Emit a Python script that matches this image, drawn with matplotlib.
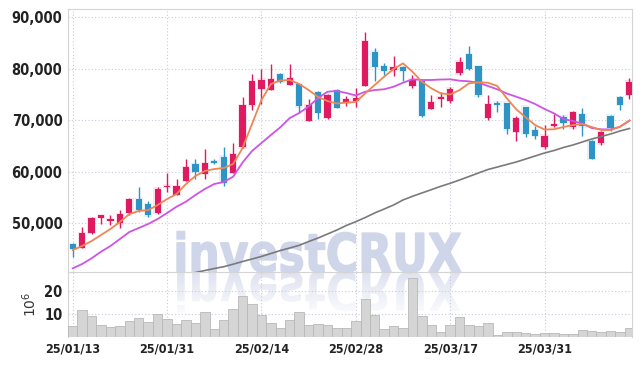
import numpy as np
import pandas as pd
import matplotlib
matplotlib.use("Agg")
import matplotlib.pyplot as plt
from matplotlib.textpath import TextPath
from matplotlib.patches import PathPatch
from matplotlib.font_manager import FontProperties
from matplotlib.transforms import Affine2D

# trading days (KRX holidays removed)
holidays = ["2025-01-27", "2025-01-28", "2025-01-29", "2025-01-30", "2025-03-03"]
days = [d for d in pd.bdate_range("2025-01-13", "2025-04-11") if d.strftime("%Y-%m-%d") not in holidays]
date_labels = [d.strftime("%y/%m/%d") for d in days]

open_ = [45900, 45200, 48100, 51000, 50400, 49900, 52000, 54600, 53700, 51900,
         57000, 55500, 58200, 61500, 59500, 62000, 62900, 59800, 64700, 72900,
         76100, 75900, 79000, 76900, 77000, 69900, 75500, 70400, 75900, 73300,
         73800, 76700, 83300, 80500, 79700, 80300, 76700, 77700, 72200, 74200,
         73800, 79100, 82900, 80500, 70400, 73400, 73400, 67700, 72600, 68100,
         64800, 68800, 70700, 68600, 71200, 66000, 65500, 70900, 74500, 74900]
high = [46100, 49200, 51200, 51500, 51500, 52500, 54800, 57000, 54200, 57000,
        59800, 58600, 62400, 62400, 64400, 62400, 64700, 65500, 74500, 79000,
        79900, 80900, 79100, 81000, 77000, 74200, 75700, 75000, 76000, 74700,
        76300, 87200, 84100, 81200, 82400, 80600, 78800, 77700, 74900, 75400,
        76500, 82200, 84400, 80500, 74900, 73800, 73400, 70800, 72600, 68800,
        69000, 71200, 71000, 71800, 72300, 66100, 67900, 71000, 74700, 78200]
low = [43400, 45100, 47900, 49800, 49600, 49100, 51600, 52200, 51200, 51700,
       56000, 55400, 58100, 58500, 58500, 61400, 57200, 59700, 64500, 72000,
       73100, 75800, 77300, 76800, 71400, 69900, 70200, 70300, 72300, 72700,
       72500, 76600, 77600, 78800, 78500, 77700, 76200, 70700, 72100, 72500,
       73300, 78700, 79700, 74500, 70000, 71600, 67300, 65900, 66800, 66400,
       64400, 68700, 68200, 68200, 66900, 62400, 65100, 67900, 72000, 74200]
close = [45000, 48000, 50900, 51500, 50700, 51700, 54600, 52600, 51500, 56700,
         57200, 57200, 60900, 59900, 61700, 61700, 57800, 63400, 72900, 77600,
         77900, 78000, 77500, 78200, 72700, 72900, 71400, 74800, 72400, 74100,
         74400, 85300, 80400, 79600, 80300, 79600, 77900, 70900, 73500, 74500,
         76100, 81400, 80000, 74800, 73100, 73000, 68200, 70400, 67300, 66900,
         67000, 69200, 69500, 71600, 68800, 62400, 67700, 68500, 73000, 77500]

# moving averages
ma5 = [44740, 45520, 46490, 47660, 48830, 50190, 51740, 52330, 52520, 53490,
       54660, 55630, 57580, 59130, 60110, 60490, 60690, 61470, 64580, 69250,
       73920, 77030, 77710, 77810, 77030, 75860, 74500, 73720, 73230, 73430,
       73530, 75220, 76830, 78450, 79950, 81050, 79420, 77470, 76190, 75220,
       74990, 75860, 77160, 77360, 77280, 76640, 74250, 72110, 70550, 69050,
       68180, 68220, 68660, 69050, 69250, 68660, 68080, 68080, 68720, 69890]
ma20 = [41180, 42020, 43130, 44410, 45520, 46880, 48240, 49020, 49800, 50770,
        51940, 53160, 54140, 55440, 56610, 57580, 57970, 59000, 61760, 64000,
        65550, 67110, 68610, 70410, 71390, 72650, 74300, 75530, 75670, 75280,
        74790, 75530, 75860, 76000, 76500, 77280, 77940, 77810, 77810, 77900,
        77940, 77670, 77550, 77280, 76640, 76000, 75180, 74560, 73920, 73140,
        72170, 71330, 70220, 69830, 69340, 68470, 68220, 68180, 68720, 69930]
ma60_start = 13
ma60 = [40360, 40750, 41140, 41490, 41980, 42500, 42990, 43480, 44060, 44640,
        45130, 45650, 46390, 47070, 47850, 48630, 49510, 50250, 51060, 51940,
        52710, 53490, 54470, 55190, 55830, 56470, 57130, 57710, 58360, 59040,
        59720, 60400, 60880, 61370, 61860, 62440, 63020, 63610, 64090, 64680,
        65160, 65750, 66330, 66820, 67300, 67890, 68370]

volume = [4.9, 11.9, 9.3, 5.3, 4.3, 4.8, 7.1, 8.4, 6.7, 10.1,
          8.0, 5.8, 7.5, 6.2, 10.9, 3.5, 7.5, 12.3, 18.0, 14.5,
          9.7, 6.2, 3.9, 7.5, 10.9, 5.3, 5.8, 5.3, 3.9, 3.9,
          7.1, 16.5, 9.7, 3.5, 4.9, 4.0, 25.8, 9.3, 5.3, 2.3,
          5.3, 8.7, 5.3, 4.9, 6.1, 1.0, 2.4, 2.4, 2.0, 1.4,
          1.7, 1.7, 1.3, 1.3, 3.0, 2.6, 2.3, 2.6, 2.3, 3.9]

tick_idx = [0, 10, 20, 30, 40, 50]
price_ticks = [50000, 60000, 70000, 80000, 90000]
vol_ticks = [10, 20]

RED = "#e01a60"
BLUE = "#2e94c6"
GRID = "#c8cadc"

num_fp = FontProperties(family="DejaVu Sans", weight="bold", stretch="condensed", size=10.5)
date_fp = FontProperties(family="DejaVu Sans", weight="bold", stretch="condensed", size=9)

W, H = 642, 366
fig = plt.figure(figsize=(W / 100, H / 100), dpi=100)

# watermark behind everything (pixel coordinates)
bg = fig.add_axes([0, 0, 1, 1], zorder=-1)
bg.set_xlim(0, W)
bg.set_ylim(0, H)
bg.axis("off")
tp = TextPath((0, 0), "investCRUX", size=100, prop=FontProperties(family="DejaVu Sans", weight="bold"))
ext = tp.get_extents()
sx = (461 - 177) / ext.width
sy = (272 - 233) / 73.0
base = H - 272
wm = PathPatch(tp, transform=Affine2D().translate(-ext.x0, 0).scale(sx, sy).translate(177, base) + bg.transData,
               facecolor="#d0d6ea", edgecolor="#d0d6ea", linewidth=1.0)
bg.add_patch(wm)
refl = PathPatch(tp, transform=Affine2D().translate(-ext.x0, 0).scale(sx, -sy).translate(177, base) + bg.transData,
                 facecolor="none", edgecolor="none")
bg.add_patch(refl)
grad = np.linspace(0.8, 0.05, 60).reshape(-1, 1)
rgba = np.zeros((60, 1, 4))
rgba[..., 0] = 0.84
rgba[..., 1] = 0.86
rgba[..., 2] = 0.93
rgba[..., 3] = grad
im = bg.imshow(rgba, extent=[170, 470, base - 45, base], aspect="auto", origin="upper")
im.set_clip_path(refl)

ax = fig.add_axes([68 / W, 1 - 271.7 / H, (632.3 - 68) / W, (271.7 - 9.3) / H])
axv = fig.add_axes([68 / W, 1 - 337.3 / H, (632.3 - 68) / W, (337.3 - 271.7) / H], sharex=ax)
for a in (ax, axv):
    a.set_facecolor("none")

x = np.arange(len(close))
o = np.array(open_)
c = np.array(close)
up = c >= o
colors = np.where(up, RED, BLUE)
body_lo = np.minimum(o, c)
body_h = np.maximum(np.abs(c - o), 250)

# soft halo round the candles
ax.bar(x, body_h + 500, bottom=body_lo - 250, width=0.9, color=colors, alpha=0.12, linewidth=0, zorder=2)
ax.vlines(x, low, high, colors=colors, linewidth=1.0, zorder=3)
ax.bar(x, body_h, bottom=body_lo, width=0.66, color=colors, linewidth=0, zorder=4)

ax.plot(x[ma60_start:], ma60, color="#7a7a7a", linewidth=1.2, zorder=5)
ax.plot(x, ma20, color="#cc55e6", linewidth=1.3, zorder=5)
ax.plot(x, ma5, color="#ee8654", linewidth=1.3, zorder=6)

ax.set_xlim(-0.5, 59.3)
ax.set_ylim(40520, 91560)
ax.set_yticks(price_ticks)
ax.set_yticklabels([f"{v:,}" for v in price_ticks])
ax.set_xticks(tick_idx)
ax.tick_params(axis="x", labelbottom=False, length=0)
ax.tick_params(axis="y", length=0, pad=4)
ax.grid(True, color=GRID, linestyle=(0, (1, 2)), linewidth=0.8)
ax.set_axisbelow(True)
for s in ax.spines.values():
    s.set_color("#d4d4d4")

axv.bar(x, volume, width=1.0, color="#d5d5d5", edgecolor="#b8b8b8", linewidth=0.6, zorder=3)
axv.set_ylim(0, 28.5)
axv.set_yticks(vol_ticks)
axv.set_xticks(tick_idx)
axv.set_xticklabels([date_labels[i] for i in tick_idx])
axv.tick_params(length=0)
axv.tick_params(axis="y", pad=4)
axv.tick_params(axis="x", pad=4)
axv.grid(True, color=GRID, linestyle=(0, (1, 2)), linewidth=0.8)
axv.set_axisbelow(True)
for s in axv.spines.values():
    s.set_color("#d4d4d4")
axv.spines["bottom"].set_visible(False)
axv.spines["top"].set_visible(False)
axv.set_ylabel(r"$10^6$", fontsize=10, labelpad=4, color="#333333")

for lab in ax.get_yticklabels() + axv.get_yticklabels():
    lab.set_fontproperties(num_fp)
    lab.set_color("#222222")
for lab in axv.get_xticklabels():
    lab.set_fontproperties(date_fp)
    lab.set_color("#222222")

fig.savefig("out.png", dpi=100)
